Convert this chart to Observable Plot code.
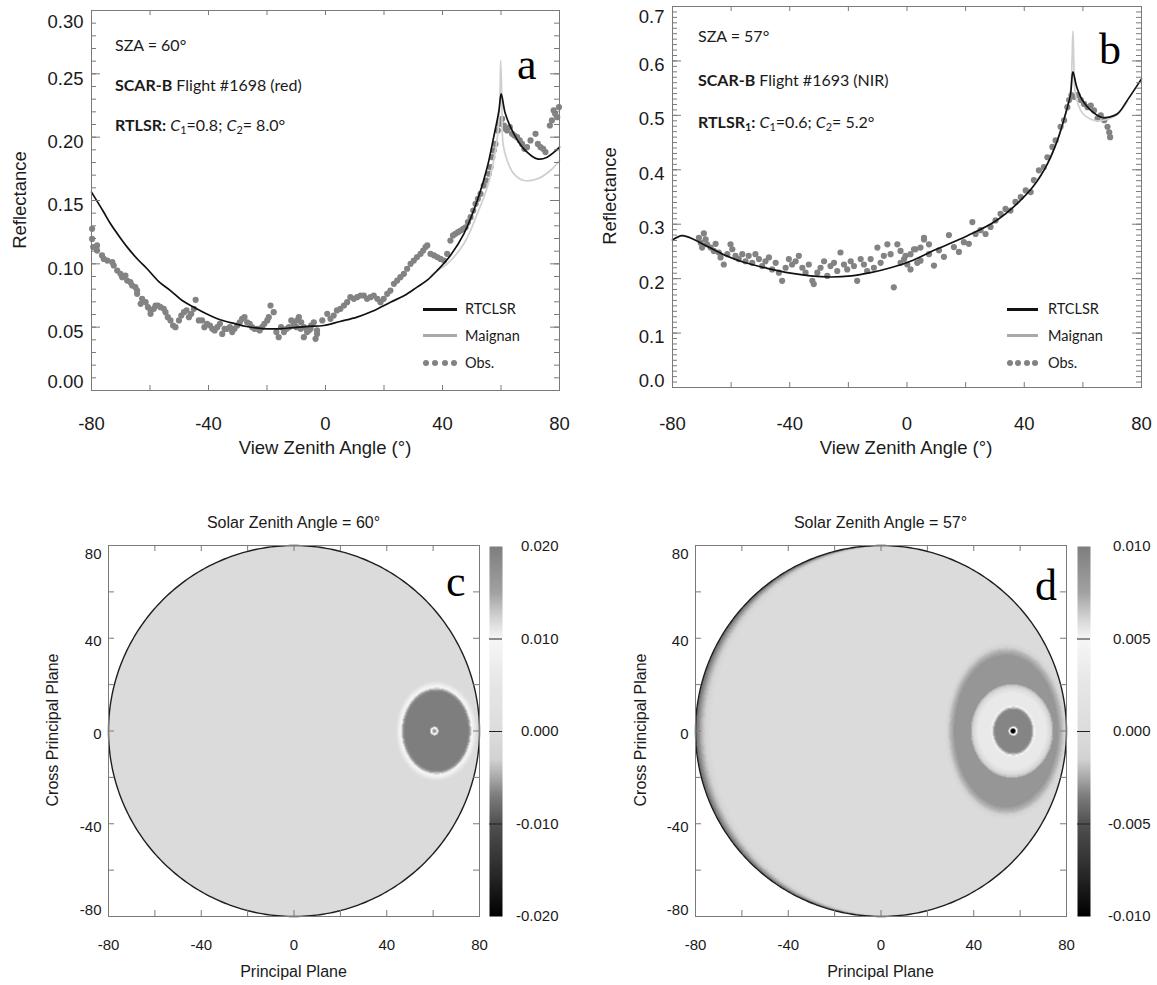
<!DOCTYPE html>
<html><head><meta charset="utf-8">
<script src="https://cdn.jsdelivr.net/npm/d3@7"></script>
<script src="https://cdn.jsdelivr.net/npm/@observablehq/plot@0.6"></script>
<style>
body{margin:0;background:#fff;}
#wrap{position:relative;width:1157px;height:985px;overflow:hidden;background:#fff;font-family:"Liberation Sans",Arial,sans-serif;color:#1a1a1a;}
#wrap sub{font-size:0.68em;vertical-align:-0.28em;line-height:0;}
</style></head><body><div id="wrap"></div>
<script>
// ---------- Panel a : SZA 60°, SCAR-B flight 1698 (red) ----------
const rtclsrA_vza = [-80,-76,-73.5,-70,-67.8,-64,-61,-57,-53,-49,-45,-40,-36,-31,-27,-23,-20,-15,-11,-6,-0.6,5,10.8,16,22.2,27,31.3,35,38.2,42.7,47.3,51.9,55.3,57.5,59.3,60.06,61.5,64.4,67.8,72.4,75.8,80];
const rtclsrA_refl = [0.1566,0.1415,0.1316,0.120,0.1132,0.103,0.0961,0.086,0.0789,0.071,0.0658,0.0598,0.0558,0.0528,0.0505,0.0492,0.0487,0.0488,0.0497,0.0507,0.0513,0.0545,0.0579,0.0625,0.0697,0.0750,0.0816,0.0875,0.0947,0.1066,0.1237,0.150,0.1763,0.200,0.221,0.2342,0.2184,0.2026,0.1908,0.1829,0.1842,0.1921];
const maignanA_vza = [36,38.2,41.6,47.3,51.9,55.3,57.5,58.9,59.6,59.9,60.3,60.7,62.1,64.4,67.8,72.4,76.9,80];
const maignanA_refl = [0.0905,0.0947,0.100,0.1158,0.1395,0.1605,0.1816,0.2026,0.229,0.2605,0.229,0.1947,0.1816,0.171,0.1658,0.1671,0.1737,0.1816];
const obsA_vza = [-79.8,-79.8,-79.4,-78.1,-78.1,-76.4,-75.8,-74.6,-72.9,-72.4,-71.2,-70.1,-69.5,-68.4,-67.8,-66.7,-66.1,-65.0,-64.4,-64.4,-63.2,-62.7,-61.5,-60.7,-59.8,-59.8,-58.7,-58.1,-57.3,-56.4,-55.3,-54.7,-53.9,-53.0,-52.1,-51.3,-50.1,-49.3,-48.4,-47.5,-46.7,-45.9,-45.0,-44.4,-43.3,-42.2,-41.4,-40.5,-39.5,-38.7,-37.9,-37.0,-36.1,-35.3,-34.5,-33.6,-32.7,-31.9,-31.1,-30.2,-29.3,-28.5,-27.7,-26.8,-25.9,-25.1,-24.3,-23.4,-22.5,-21.7,-20.9,-19.9,-19.4,-18.8,-17.7,-16.8,-16.0,-15.2,-14.2,-13.3,-12.5,-11.7,-10.8,-10.8,-9.9,-9.7,-9.1,-8.5,-8.3,-7.4,-7.4,-6.5,-6.3,-5.7,-5.1,-4.9,-4.0,-3.4,-2.9,-2.9,-1.1,0.6,1.7,2.8,3.9,5.1,6.3,7.4,8.5,9.7,10.8,12.0,13.1,14.2,15.4,16.5,17.7,18.8,19.9,21.1,22.2,23.4,24.5,25.6,26.8,27.9,29.1,30.2,31.3,32.5,33.4,34.2,34.8,35.9,37.1,38.2,39.3,40.5,41.6,42.7,43.6,44.4,45.3,46.2,47.1,47.9,48.7,49.6,50.5,51.3,52.1,53.0,54.1,55.0,55.8,56.4,57.0,57.5,58.1,58.9,59.4,59.8,60.4,61.0,61.5,62.1,63.0,63.8,64.6,65.5,66.4,67.2,68.0,68.9,70.1,71.8,72.6,73.5,74.4,75.2,76.7,77.4,78.0,78.5,79.2,79.8];
const obsA_refl = [0.1276,0.1197,0.1132,0.1105,0.1145,0.1066,0.1039,0.1026,0.1013,0.0987,0.0947,0.0921,0.0895,0.0908,0.0868,0.0855,0.0829,0.0816,0.0789,0.0763,0.0684,0.0724,0.0697,0.0658,0.0632,0.0605,0.0645,0.0671,0.0671,0.0658,0.0645,0.0618,0.0579,0.0553,0.0513,0.0500,0.0553,0.0592,0.0618,0.0632,0.0579,0.0605,0.0645,0.0716,0.0553,0.0553,0.0500,0.0526,0.0513,0.0487,0.0474,0.0500,0.0526,0.0447,0.0487,0.0487,0.0500,0.0461,0.0487,0.0513,0.0539,0.0566,0.0579,0.0539,0.0526,0.0500,0.0487,0.0487,0.0474,0.0500,0.0526,0.0553,0.0579,0.0671,0.0618,0.0461,0.0421,0.0500,0.0461,0.0487,0.0500,0.0553,0.0526,0.0513,0.0500,0.0553,0.0579,0.0487,0.0539,0.0500,0.0421,0.0487,0.0461,0.0474,0.0487,0.0513,0.0539,0.0408,0.0474,0.0447,0.0553,0.0605,0.0566,0.0592,0.0632,0.0645,0.0671,0.0697,0.0737,0.0724,0.0737,0.0750,0.0750,0.0724,0.0737,0.0750,0.0724,0.0697,0.0724,0.0763,0.0789,0.0842,0.0868,0.0895,0.0921,0.0961,0.1000,0.1026,0.1053,0.1079,0.1105,0.1132,0.1145,0.1079,0.1066,0.1053,0.1039,0.1026,0.1079,0.1184,0.1224,0.1237,0.1250,0.1263,0.1276,0.1289,0.1329,0.1368,0.1421,0.1474,0.1513,0.1553,0.1618,0.1658,0.1711,0.1763,0.1842,0.1895,0.1947,0.2053,0.2105,0.2132,0.2145,0.2092,0.2066,0.2053,0.2079,0.2026,0.2013,0.2000,0.1974,0.1947,0.1908,0.1921,0.1974,0.2026,0.1947,0.1921,0.1908,0.1882,0.2092,0.2132,0.2211,0.2184,0.2158,0.2237];

// ---------- Panel b : SZA 57°, SCAR-B flight 1693 (NIR) ----------
const rtclsrB_vza = [-80,-76.7,-72.7,-68,-62.5,-55.7,-47.7,-39.7,-33,-26,-19,-12.4,-5.6,1.2,9.2,20.6,29.7,37.6,43.3,47.9,51.3,54.1,55.8,56.6,57.9,59.8,62.7,66.1,67.8,71.8,75.2,80];
const rtclsrB_refl = [0.271,0.279,0.272,0.259,0.244,0.230,0.219,0.210,0.205,0.203,0.205,0.211,0.220,0.232,0.252,0.279,0.304,0.338,0.371,0.411,0.454,0.503,0.540,0.580,0.552,0.528,0.509,0.497,0.496,0.503,0.528,0.567];
const maignanB_vza = [44,47.9,51.3,54.1,55.8,56.3,56.6,56.9,57.3,58.5,60,62.7,65,67.8,71.8,75.2];
const maignanB_refl = [0.378,0.411,0.454,0.503,0.545,0.600,0.655,0.600,0.545,0.518,0.503,0.493,0.490,0.492,0.502,0.526];
const obsB_vza = [-71.0,-70.4,-69.9,-69.3,-68.7,-68.2,-67.0,-65.9,-65.3,-64.2,-63.6,-62.5,-61.3,-60.2,-59.6,-58.5,-57.4,-56.2,-55.1,-54.0,-52.8,-51.7,-50.5,-49.4,-48.3,-47.1,-46.0,-44.8,-43.7,-42.6,-41.4,-40.3,-39.2,-38.0,-36.9,-35.7,-34.6,-33.5,-32.3,-31.8,-30.6,-29.5,-28.3,-27.2,-26.1,-24.9,-23.8,-22.7,-21.5,-20.4,-19.2,-18.1,-17.0,-15.8,-14.7,-13.6,-12.4,-11.3,-10.1,-9.0,-7.9,-6.7,-5.6,-4.5,-3.3,-2.2,-2.2,-1.0,-0.5,0.1,1.2,1.2,2.4,2.9,3.5,4.6,4.6,5.8,5.8,7.5,7.5,9.2,10.9,12.6,14.3,16.0,17.7,19.4,21.1,22.3,23.4,25.1,26.8,28.5,30.2,31.9,33.6,35.3,37.0,38.8,40.5,42.2,43.3,45.0,46.7,47.9,49.6,50.7,52.4,53.6,54.7,55.3,56.1,57.0,58.2,59.3,60.4,61.6,62.7,63.8,65.0,66.1,67.3,68.4,69.0,69.3];
const obsB_refl = [0.275,0.266,0.257,0.283,0.272,0.263,0.257,0.251,0.264,0.248,0.239,0.226,0.245,0.263,0.254,0.242,0.236,0.245,0.232,0.242,0.229,0.245,0.236,0.223,0.232,0.239,0.217,0.229,0.211,0.196,0.220,0.236,0.226,0.232,0.242,0.220,0.211,0.226,0.196,0.190,0.211,0.220,0.232,0.205,0.223,0.229,0.214,0.248,0.226,0.217,0.232,0.223,0.196,0.236,0.226,0.214,0.236,0.220,0.257,0.229,0.242,0.263,0.245,0.184,0.263,0.251,0.229,0.236,0.242,0.226,0.245,0.217,0.254,0.254,0.229,0.257,0.233,0.275,0.272,0.263,0.245,0.224,0.252,0.240,0.280,0.258,0.249,0.267,0.264,0.304,0.282,0.289,0.282,0.295,0.307,0.319,0.328,0.325,0.341,0.350,0.362,0.359,0.381,0.399,0.405,0.423,0.442,0.454,0.479,0.491,0.515,0.528,0.537,0.534,0.537,0.528,0.521,0.515,0.518,0.509,0.494,0.500,0.491,0.479,0.469,0.460];

// ---------- Axis ticks ----------
const vzaTicks = [-80, -40, 0, 40, 80];
const vzaMinor = [-80, -60, -40, -20, 0, 20, 40, 60, 80];
const reflTicksA = [0, 0.05, 0.10, 0.15, 0.20, 0.25, 0.30];
const reflTicksB = [0, 0.1, 0.2, 0.3, 0.4, 0.5, 0.6, 0.7];
const mapTicks = [-80, -40, 0, 40, 80];
const mapMinor = [-80, -60, -40, -20, 0, 20, 40, 60, 80];
const barTicksC = [-0.020, -0.010, 0.000, 0.010, 0.020];
const barTicksD = [-0.010, -0.005, 0.000, 0.005, 0.010];

// ---------- Difference maps (RTCLSR − Maignan), nested ellipses drawn in order ----------
const maxVZA = 80;
const mapC_base = -0.0003;
const mapC_cx = [61.4,61.4,61.4,61.4,61.4,61.4,61.4,61.4,60.5,60.5];
const mapC_cy = [0,0,0,0,0,0,0,0,0,0];
const mapC_rx = [17.4,16.8,16.2,15.6,15.0,14.6,14.2,13.8,1.8,0.9];
const mapC_ry = [21.3,20.6,19.9,19.2,18.6,18.1,17.6,17.2,1.8,0.9];
const mapC_val = [0.003,0.0060,0.0085,0.0100,0.0125,0.0155,0.0180,0.0200,0.0100,0.0160];
const mapC_rimShift = [];
const mapC_rimVal = [];

const mapD_base = -0.0002;
const mapD_rimShift = [6.2, 5.0, 3.9, 3.0, 2.2, 1.5, 0.8];
const mapD_rimVal = [-0.0006, -0.0012, -0.0018, -0.0023, -0.0028, -0.0033, -0.0038];
const mapD_cx = [54,54,54,54,54,54, 56.5,56.5,56.5,56.5,56.5, 57,57,57,57, 57,57];
const mapD_cy = [0,0,0,0,0,0, 0,0,0,0,0, 0,0,0,0, 0,0];
const mapD_rx = [26.2,25.5,24.8,24.0,23.3,22.6, 17.6,16.9,16.2,15.5,14.9, 9.5,8.9,8.4,8.0, 1.9,1.1];
const mapD_ry = [37.8,36.8,35.8,34.9,34.0,33.0, 20.1,19.2,18.4,17.6,16.9, 11.1,10.4,9.9,9.4, 1.9,1.1];
const mapD_val = [-0.0008,-0.0014,-0.0019,-0.0023,-0.0026,-0.0029, -0.0018,-0.0006,0.0008,0.0020,0.0030, 0.0047,0.0064,0.0080,0.0095, 0.0050,-0.0100];

// ---------- Grey colour map (normalised positions, shared by both maps) ----------
const cmapT = [-1, -0.75, -0.5, -0.35, -0.25, -0.15, 0, 0.25, 0.5, 0.6, 0.75, 1];
const cmapGray = ["#000000","#2c2c2c","#505050","#7c7c7c","#a8a8a8","#d2d2d2","#dcdcdc","#e6e6e6","#f6f6f6","#d8d8d8","#a2a2a2","#7e7e7e"];

// ================= drawing =================
const wrap = document.getElementById("wrap");
const AX = "#7a7a7a";
const SANS = '"Liberation Sans", Arial, sans-serif';
const rowsOf = (xs, ys) => xs.map((x, i) => ({x, y: ys[i]}));

function put(node, left, top) {
  node.style.position = "absolute";
  node.style.left = left + "px";
  node.style.top = top + "px";
  wrap.appendChild(node);
}
function text(html, x, y, css) {
  const d = document.createElement("div");
  d.innerHTML = html;
  d.style.cssText = `position:absolute;left:${x}px;top:${y}px;white-space:nowrap;line-height:1;${css}`;
  wrap.appendChild(d);
  return d;
}
function box(x, y, w, h, css) {
  const d = document.createElement("div");
  d.style.cssText = `position:absolute;left:${x}px;top:${y}px;width:${w}px;height:${h}px;${css}`;
  wrap.appendChild(d);
}

function curvePanel(c) {
  const fw = c.width - c.ml - c.mr, fh = c.height - c.mt - c.mb;
  const top = c.yTicks[c.yTicks.length - 1], bot = c.yTicks[0], mid = c.yTicks.slice(1, -1);
  const fmt = d => d.toFixed(c.digits);
  const yAx = (ticks, dy) => Plot.axisY(ticks, {tickSize: 0, tickPadding: 8, dy, tickFormat: fmt, label: null});
  return Plot.plot({
    width: c.width, height: c.height,
    marginLeft: c.ml, marginRight: c.mr, marginTop: c.mt, marginBottom: c.mb,
    x: {domain: [-80, 80], label: null},
    y: {domain: [0, top], label: null},
    style: {fontFamily: SANS, fontSize: "18.5px", color: "#1a1a1a", background: "transparent", overflow: "visible"},
    marks: [
      Plot.dot(rowsOf(c.obsX, c.obsY), {x: "x", y: "y", r: 3.1, fill: "#838383"}),
      Plot.line(rowsOf(c.mX, c.mY), {x: "x", y: "y", stroke: "#cfcfcf", strokeWidth: 1.7, curve: "catmull-rom"}),
      Plot.line(rowsOf(c.rX, c.rY), {x: "x", y: "y", stroke: "#111", strokeWidth: 1.7, curve: "catmull-rom"}),
      Plot.tickY(c.yMinor, {y: d => d, stroke: AX, insetRight: fw - 5}),
      Plot.tickY(c.yMinor, {y: d => d, stroke: AX, insetLeft: fw - 5}),
      Plot.tickY(c.yTicks, {y: d => d, stroke: AX, insetRight: fw - 9}),
      Plot.tickY(c.yTicks, {y: d => d, stroke: AX, insetLeft: fw - 9}),
      Plot.tickX(vzaMinor, {x: d => d, stroke: AX, insetTop: fh - 5}),
      Plot.tickX(vzaMinor, {x: d => d, stroke: AX, insetBottom: fh - 5}),
      Plot.frame({stroke: AX}),
      Plot.axisX(vzaTicks, {tickSize: 0, tickPadding: c.xPad, tickFormat: d => String(d), label: null}),
      yAx(mid, c.dyMid), yAx([top], c.dyTop), yAx([bot], c.dyBot)
    ]
  });
}

function colorScale(max) {
  return {type: "linear", domain: cmapT.map(t => t * max), range: cmapGray, interpolate: "rgb", clamp: true, unknown: "#ffffff"};
}

function mapFill(base, rimShift, rimVal, cx, cy, rx, ry, val) {
  const R2 = maxVZA * maxVZA;
  return (x, y) => {
    if (x * x + y * y > R2) return NaN;
    let v = base;
    for (let i = 0; i < rimShift.length; i++) {
      const s = rimShift[i];
      if ((x - s) * (x - s) + y * y > R2) v = rimVal[i];
    }
    for (let i = 0; i < cx.length; i++) {
      const dx = (x - cx[i]) / rx[i], dy = (y - cy[i]) / ry[i];
      if (dx * dx + dy * dy <= 1) v = val[i];
    }
    return v;
  };
}

const rim = d3.range(0, 361, 1).map(a => ({x: maxVZA * Math.cos(a * Math.PI / 180), y: maxVZA * Math.sin(a * Math.PI / 180)}));

function mapPanel(c) {
  const fw = c.width - c.ml - c.mr, fh = c.height - c.mt - c.mb;
  const yAx = (ticks, dy) => Plot.axisY(ticks, {tickSize: 0, tickPadding: 7, dy, tickFormat: d => String(d), label: null});
  return Plot.plot({
    width: c.width, height: c.height,
    marginLeft: c.ml, marginRight: c.mr, marginTop: c.mt, marginBottom: c.mb,
    x: {domain: [-80, 80], label: null},
    y: {domain: [-80, 80], label: null},
    color: colorScale(c.max),
    style: {fontFamily: SANS, fontSize: "15px", color: "#1a1a1a", background: "transparent", overflow: "visible"},
    marks: [
      Plot.raster({fill: c.fill, x1: -80, x2: 80, y1: -80, y2: 80}),
      Plot.line(rim, {x: "x", y: "y", stroke: "#1e1e1e", strokeWidth: 1.4}),
      Plot.tickY(mapMinor, {y: d => d, stroke: AX, insetRight: fw - 6}),
      Plot.tickY(mapMinor, {y: d => d, stroke: AX, insetLeft: fw - 6}),
      Plot.tickX(mapMinor, {x: d => d, stroke: AX, insetTop: fh - 6}),
      Plot.tickX(mapMinor, {x: d => d, stroke: AX, insetBottom: fh - 6}),
      Plot.frame({stroke: AX}),
      Plot.axisX(mapTicks, {tickSize: 0, tickPadding: 23, tickFormat: d => String(d), label: null}),
      yAx([-40, 0, 40], 3), yAx([80], 9), yAx([-80], -6)
    ]
  });
}

function colorBar(c) {
  return Plot.plot({
    width: c.width, height: 485,
    marginLeft: 0, marginRight: c.width - 13, marginTop: 46, marginBottom: 69,
    x: {domain: [0, 1], axis: null},
    y: {domain: [-c.max, c.max], label: null},
    color: colorScale(c.max),
    style: {fontFamily: SANS, fontSize: "15px", color: "#1a1a1a", background: "transparent", overflow: "visible"},
    marks: [
      Plot.raster({fill: (x, y) => y, x1: 0, x2: 1, y1: -c.max, y2: c.max}),
      Plot.ruleY(c.ticks.slice(1, -1), {stroke: "#222", strokeWidth: 1}),
      Plot.axisY(c.ticks, {anchor: "right", tickSize: 0, tickPadding: c.pad, textAnchor: "end", tickFormat: d => d.toFixed(3), label: null})
    ]
  });
}

// ----- panel a -----
put(curvePanel({width: 580, height: 470, ml: 91, mr: 21, mt: 10, mb: 80,
  yTicks: reflTicksA, yMinor: d3.range(0, 31).map(i => i / 100), digits: 2,
  dyMid: 5, dyTop: 12, dyBot: -8, xPad: 26.5,
  obsX: obsA_vza, obsY: obsA_refl, mX: maignanA_vza, mY: maignanA_refl, rX: rtclsrA_vza, rY: rtclsrA_refl}), 0, 0);
// ----- panel b -----
put(curvePanel({width: 577, height: 470, ml: 92, mr: 16, mt: 6, mb: 83,
  yTicks: reflTicksB, yMinor: d3.range(0, 71).map(i => i / 100), digits: 1,
  dyMid: 4, dyTop: 11, dyBot: -6, xPad: 29.5,
  obsX: obsB_vza, obsY: obsB_refl, mX: maignanB_vza, mY: maignanB_refl, rX: rtclsrB_vza, rY: rtclsrB_refl}), 580, 0);
// ----- panel c -----
put(mapPanel({width: 580, height: 485, ml: 108, mr: 101, mt: 45, mb: 69, max: 0.02,
  fill: mapFill(mapC_base, mapC_rimShift, mapC_rimVal, mapC_cx, mapC_cy, mapC_rx, mapC_ry, mapC_val)}), 0, 500);
put(colorBar({width: 90, max: 0.02, ticks: barTicksC, pad: 56}), 489, 500);
// ----- panel d -----
put(mapPanel({width: 577, height: 485, ml: 115, mr: 91, mt: 45, mb: 69, max: 0.01,
  fill: mapFill(mapD_base, mapD_rimShift, mapD_rimVal, mapD_cx, mapD_cy, mapD_rx, mapD_ry, mapD_val)}), 580, 500);
put(colorBar({width: 80, max: 0.01, ticks: barTicksD, pad: 60}), 1077, 500);

// ----- axis titles -----
const t18 = `font-family:${SANS};font-size:18.5px;color:#1a1a1a;`;
const t16 = `font-family:${SANS};font-size:16px;color:#1a1a1a;`;
text("Reflectance", 20, 200, t18 + "transform:translate(-50%,-50%) rotate(-90deg);");
text("View Zenith Angle (&deg;)", 325, 448, t18 + "transform:translate(-50%,-50%);");
text("Reflectance", 610, 196, t18 + "transform:translate(-50%,-50%) rotate(-90deg);");
text("View Zenith Angle (&deg;)", 906, 448, t18 + "transform:translate(-50%,-50%);");
text("Solar Zenith Angle = 60&deg;", 293.5, 523, t16 + "transform:translate(-50%,-50%);");
text("Principal Plane", 293.5, 972, t16 + "transform:translate(-50%,-50%);");
text("Cross Principal Plane", 53, 730, t16 + "transform:translate(-50%,-50%) rotate(-90deg);");
text("Solar Zenith Angle = 57&deg;", 880.5, 523, t16 + "transform:translate(-50%,-50%);");
text("Principal Plane", 880.5, 972, t16 + "transform:translate(-50%,-50%);");
text("Cross Principal Plane", 641, 730, t16 + "transform:translate(-50%,-50%) rotate(-90deg);");

// ----- annotations -----
const ann = "font-family:Lato,'Open Sans',sans-serif;font-size:16px;color:#1a1a1a;transform:translateY(-50%);";
text("SZA = 60&deg;", 115, 45, ann);
text("<b>SCAR-B</b> Flight #1698 (red)", 115, 85, ann);
text("<b>RTLSR:</b> <i>C</i><sub>1</sub>=0.8; <i>C</i><sub>2</sub>= 8.0&deg;", 115, 125, ann);
text("SZA = 57&deg;", 698, 36, ann);
text("<b>SCAR-B</b> Flight #1693 (NIR)", 698, 80, ann);
text("<b>RTLSR<sub>1</sub>:</b> <i>C</i><sub>1</sub>=0.6; <i>C</i><sub>2</sub>= 5.2&deg;", 698, 122, ann);
const big = "font-family:'Liberation Serif','DejaVu Serif',serif;font-size:44px;color:#000;";
text("a", 517, 43, big);
text("b", 1099, 28, big);
text("c", 446, 560, big);
text("d", 1035, 564, big);

// ----- legends -----
const leg = "font-family:Lato,'Open Sans',sans-serif;font-size:14.5px;color:#1a1a1a;transform:translateY(-50%);";
function legend(x0, lw, tx) {
  box(x0, 307.5, lw, 3, "background:#111;");
  box(x0, 334, lw, 3, "background:#a9a9a9;");
  for (let k = 0; k < 4; k++) box(x0 + k * (lw - 6) / 3, 360, 6, 6, "background:#838383;border-radius:50%;");
  text("RTCLSR", tx, 309, leg);
  text("Maignan", tx, 336, leg);
  text("Obs.", tx, 363, leg);
}
legend(423, 34, 465);
legend(1007, 31, 1048);
</script></body></html>
